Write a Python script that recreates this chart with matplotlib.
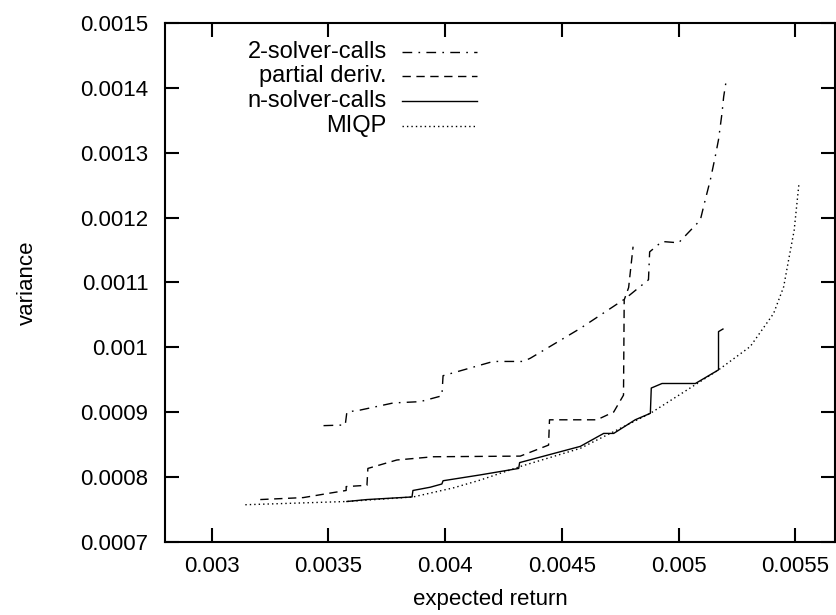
import matplotlib
matplotlib.use("Agg")
import matplotlib.pyplot as plt
from matplotlib.lines import Line2D

plt.rcParams["font.family"] = ["Liberation Sans", "DejaVu Sans"]

# efficient frontiers: expected return vs. variance
two_calls_ret = [0.003479, 0.003572, 0.003579, 0.003636, 0.003778, 0.003893, 0.003986,
                 0.003991, 0.004206, 0.004335, 0.004365, 0.004579, 0.004772, 0.004871,
                 0.004876, 0.004929, 0.005000, 0.005093, 0.005114, 0.005136, 0.005157,
                 0.005171, 0.005186, 0.005193, 0.005203]
two_calls_var = [0.000879, 0.000880, 0.000900, 0.000903, 0.000914, 0.000916, 0.000925,
                 0.000956, 0.000978, 0.000978, 0.000983, 0.001029, 0.001075, 0.001104,
                 0.001147, 0.001163, 0.001161, 0.001196, 0.001227, 0.001258, 0.001294,
                 0.001320, 0.001361, 0.001386, 0.001409]

partial_ret = [0.003208, 0.003392, 0.003508, 0.003576, 0.003576, 0.003665, 0.003669,
               0.003793, 0.003949, 0.004322, 0.004443, 0.004447, 0.004650, 0.004722,
               0.004764, 0.004767, 0.004786, 0.004805]
partial_var = [0.000765, 0.000768, 0.000775, 0.000779, 0.000785, 0.000787, 0.000813,
               0.000826, 0.000831, 0.000832, 0.000849, 0.000888, 0.000888, 0.000900,
               0.000926, 0.001073, 0.001092, 0.001155]

n_calls_ret = [0.003579, 0.003665, 0.003858, 0.003862, 0.003936, 0.003986, 0.003991,
               0.004150, 0.004315, 0.004319, 0.004579, 0.004679, 0.004722, 0.004814,
               0.004879, 0.004883, 0.004929, 0.005072, 0.005171, 0.005171, 0.005190]
n_calls_var = [0.000762, 0.000765, 0.000769, 0.000779, 0.000784, 0.000789, 0.000794,
               0.000803, 0.000813, 0.000822, 0.000847, 0.000867, 0.000867, 0.000888,
               0.000898, 0.000937, 0.000944, 0.000944, 0.000965, 0.001024, 0.001028]

miqp_ret = [0.003144, 0.003579, 0.003863, 0.004035, 0.004150, 0.004322, 0.004579,
            0.004879, 0.005093, 0.005171, 0.005307, 0.005407, 0.005450, 0.005471,
            0.005495, 0.005515]
miqp_var = [0.000757, 0.000762, 0.000769, 0.000783, 0.000795, 0.000816, 0.000844,
            0.000898, 0.000947, 0.000965, 0.001001, 0.001052, 0.001093, 0.001134,
            0.001180, 0.001250]

x_ticks = [0.003, 0.0035, 0.004, 0.0045, 0.005, 0.0055]
x_labels = ["0.003", "0.0035", "0.004", "0.0045", "0.005", "0.0055"]
y_ticks = [0.0007, 0.0008, 0.0009, 0.001, 0.0011, 0.0012, 0.0013, 0.0014, 0.0015]
y_labels = ["0.0007", "0.0008", "0.0009", "0.001", "0.0011", "0.0012", "0.0013",
            "0.0014", "0.0015"]

styles = [
    ("2-solver-calls", two_calls_ret, two_calls_var, (0, (7, 4.5, 1.2, 4.5))),
    ("partial deriv.", partial_ret, partial_var, (0, (6, 4))),
    ("n-solver-calls", n_calls_ret, n_calls_var, "-"),
    ("MIQP", miqp_ret, miqp_var, (0, (1, 2.2))),
]

fig = plt.figure(figsize=(8.36, 6.15), dpi=100)
ax = fig.add_axes([0.1974, 0.1192, 0.8014, 0.8434])

for name, xs, ys, ls in styles:
    ax.plot(xs, ys, color="black", lw=1.0, linestyle=ls)

ax.set_xlim(0.0028, 0.00567)
ax.set_ylim(0.0007, 0.0015)
ax.set_xticks(x_ticks, x_labels)
ax.set_yticks(y_ticks, y_labels)
ax.tick_params(direction="in", length=10, width=1.5, labelsize=16,
               top=True, right=True)
ax.tick_params(axis="y", pad=12)
ax.tick_params(axis="x", pad=10)
for spine in ax.spines.values():
    spine.set_linewidth(1.5)

ax.set_xlabel("expected return", fontsize=16)
ax.set_ylabel("variance", fontsize=16)
ax.xaxis.set_label_coords(0.485, -0.091)
ax.yaxis.set_label_coords(-0.19, 0.5)

# gnuplot-style key: right-aligned titles with line samples to the right
rows = [0.944, 0.897, 0.849, 0.802]
for (name, _, _, ls), y in zip(styles, rows):
    ax.text(0.331, y, name, transform=ax.transAxes, ha="right", va="center",
            fontsize=17)
    ax.add_line(Line2D([0.354, 0.466], [y, y], transform=ax.transAxes,
                       color="black", lw=1.0, linestyle=ls))

fig.savefig("out.png", dpi=100)
